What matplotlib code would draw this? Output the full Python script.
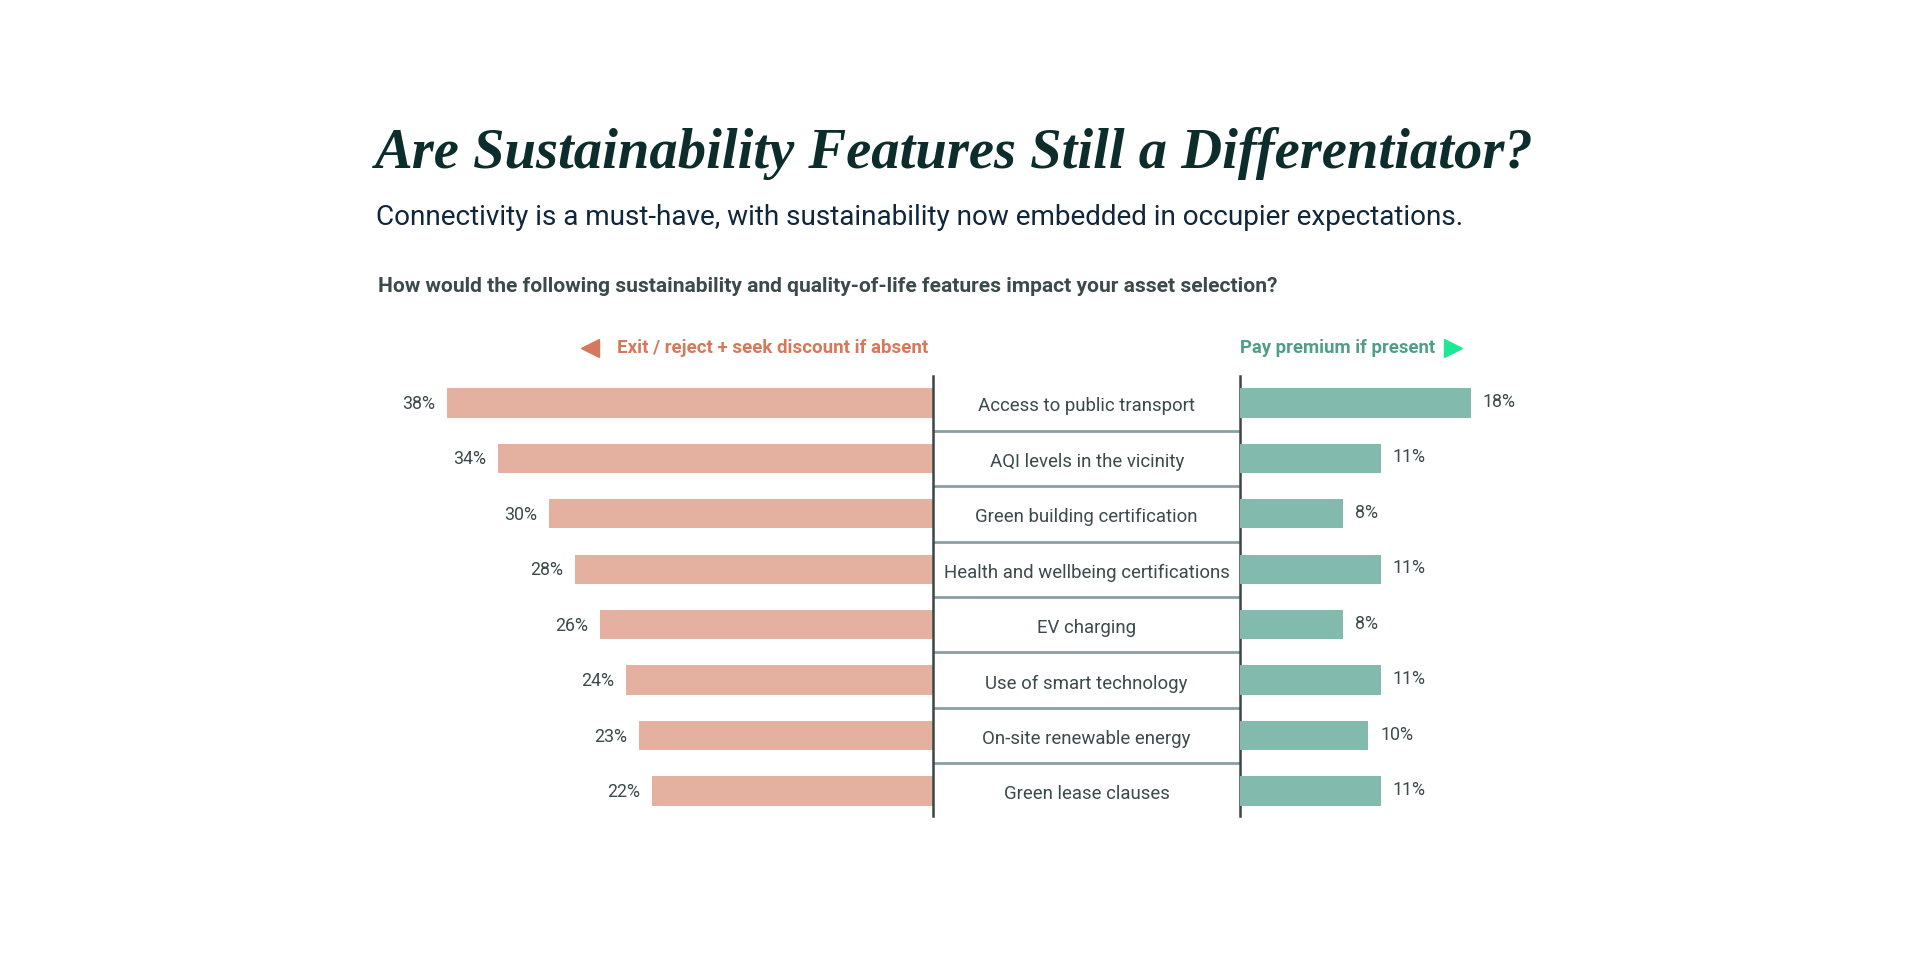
import matplotlib
matplotlib.use("Agg")
import matplotlib.pyplot as plt
from matplotlib.lines import Line2D

features = [
    "Access to public transport",
    "AQI levels in the vicinity",
    "Green building certification",
    "Health and wellbeing certifications",
    "EV charging",
    "Use of smart technology",
    "On-site renewable energy",
    "Green lease clauses",
]
exit_reject = [38, 34, 30, 28, 26, 24, 23, 22]
pay_premium = [18, 11, 8, 11, 8, 11, 10, 11]

TITLE = "Are Sustainability Features Still a Differentiator?"
SUBTITLE = "Connectivity is a must-have, with sustainability now embedded in occupier expectations."
QUESTION = "How would the following sustainability and quality-of-life features impact your asset selection?"
LEFT_HEAD = "Exit / reject + seek discount if absent"
RIGHT_HEAD = "Pay premium if present"

C_LEFT = "#e4b0a0"
C_RIGHT = "#82bbad"
C_LEFT_TXT = "#d6795b"
C_RIGHT_TXT = "#4f9e88"
C_TRI_R = "#1ee896"
C_TXT = "#3b4a4c"
C_LINE = "#3a4548"
C_SEP = "#8a9ea3"

plt.rcParams["font.family"] = ["Roboto", "DejaVu Sans"]

# layout is worked out on a 1568 x 784 grid, then mapped onto the figure
W, H = 1568.0, 784.0
def fx(x):
    return x / W
def fy(y):
    return 1 - y / H

fig = plt.figure(figsize=(19.2, 9.6), dpi=100)
fig.patch.set_facecolor("white")

px_per_pct = 10.45
top, bot = 307, 666
ylim = (len(features) - 1 + 0.44, -0.486)
x_mid_l, x_mid_r = 762, 1013

ax_l = fig.add_axes([fx(x_mid_l - 40 * px_per_pct), fy(bot), (40 * px_per_pct) / W, (bot - top) / H])
ax_c = fig.add_axes([fx(x_mid_l), fy(bot), (x_mid_r - x_mid_l) / W, (bot - top) / H])
ax_r = fig.add_axes([fx(x_mid_r), fy(bot), (20 * px_per_pct) / W, (bot - top) / H])

rows = list(range(len(features)))

ax_l.barh(rows, exit_reject, height=0.53, color=C_LEFT)
ax_l.set_xlim(40, 0)
for i, v in enumerate(exit_reject):
    ax_l.annotate(f"{v}%", (v, i + 0.02), xytext=(-8.5, 0), textcoords="offset points",
                  ha="right", va="center", fontsize=12.8, color=C_TXT)

ax_r.barh(rows, pay_premium, height=0.53, color=C_RIGHT)
ax_r.set_xlim(0, 20)
for i, v in enumerate(pay_premium):
    ax_r.annotate(f"{v}%", (v, i - 0.02), xytext=(8.5, 0), textcoords="offset points",
                  ha="left", va="center", fontsize=12.8, color=C_TXT)

ax_c.set_xlim(0, 1)
for i, name in enumerate(features):
    ax_c.text(0.5, i + 0.06, name, ha="center", va="center", fontsize=13.4, color=C_TXT)
for i in rows[:-1]:
    ax_c.axhline(i + 0.5, color=C_SEP, lw=2)

for ax in (ax_l, ax_c, ax_r):
    ax.set_ylim(*ylim)
    ax.set_xticks([])
    ax.set_yticks([])
    ax.patch.set_alpha(0)
    for s in ax.spines.values():
        s.set_visible(False)
for side in ("left", "right"):
    ax_c.spines[side].set_visible(True)
    ax_c.spines[side].set_color(C_LINE)
    ax_c.spines[side].set_linewidth(1.8)

# headings
fig.text(fx(306), fy(125), TITLE, ha="left", va="center", fontsize=40.8,
         family="Liberation Serif", style="italic", weight="bold", color="#0c2d2b")
fig.text(fx(307), fy(178), SUBTITLE, ha="left", va="center", fontsize=20.1, color="#10263a")
fig.text(fx(309), fy(234), QUESTION, ha="left", va="center", fontsize=15.1,
         weight="semibold", color=C_TXT)

fig.text(fx(758), fy(284), LEFT_HEAD, ha="right", va="center", fontsize=13.5,
         weight="bold", color=C_LEFT_TXT)
fig.text(fx(1013), fy(284), RIGHT_HEAD, ha="left", va="center", fontsize=13.3,
         weight="bold", color=C_RIGHT_TXT)
fig.add_artist(Line2D([fx(482)], [fy(284)], marker="<", ms=12.5, color=C_LEFT_TXT,
                      transform=fig.transFigure, lw=0))
fig.add_artist(Line2D([fx(1187)], [fy(284)], marker=">", ms=12.5, color=C_TRI_R,
                      transform=fig.transFigure, lw=0))

fig.savefig("out.png", dpi=100, facecolor="white")
